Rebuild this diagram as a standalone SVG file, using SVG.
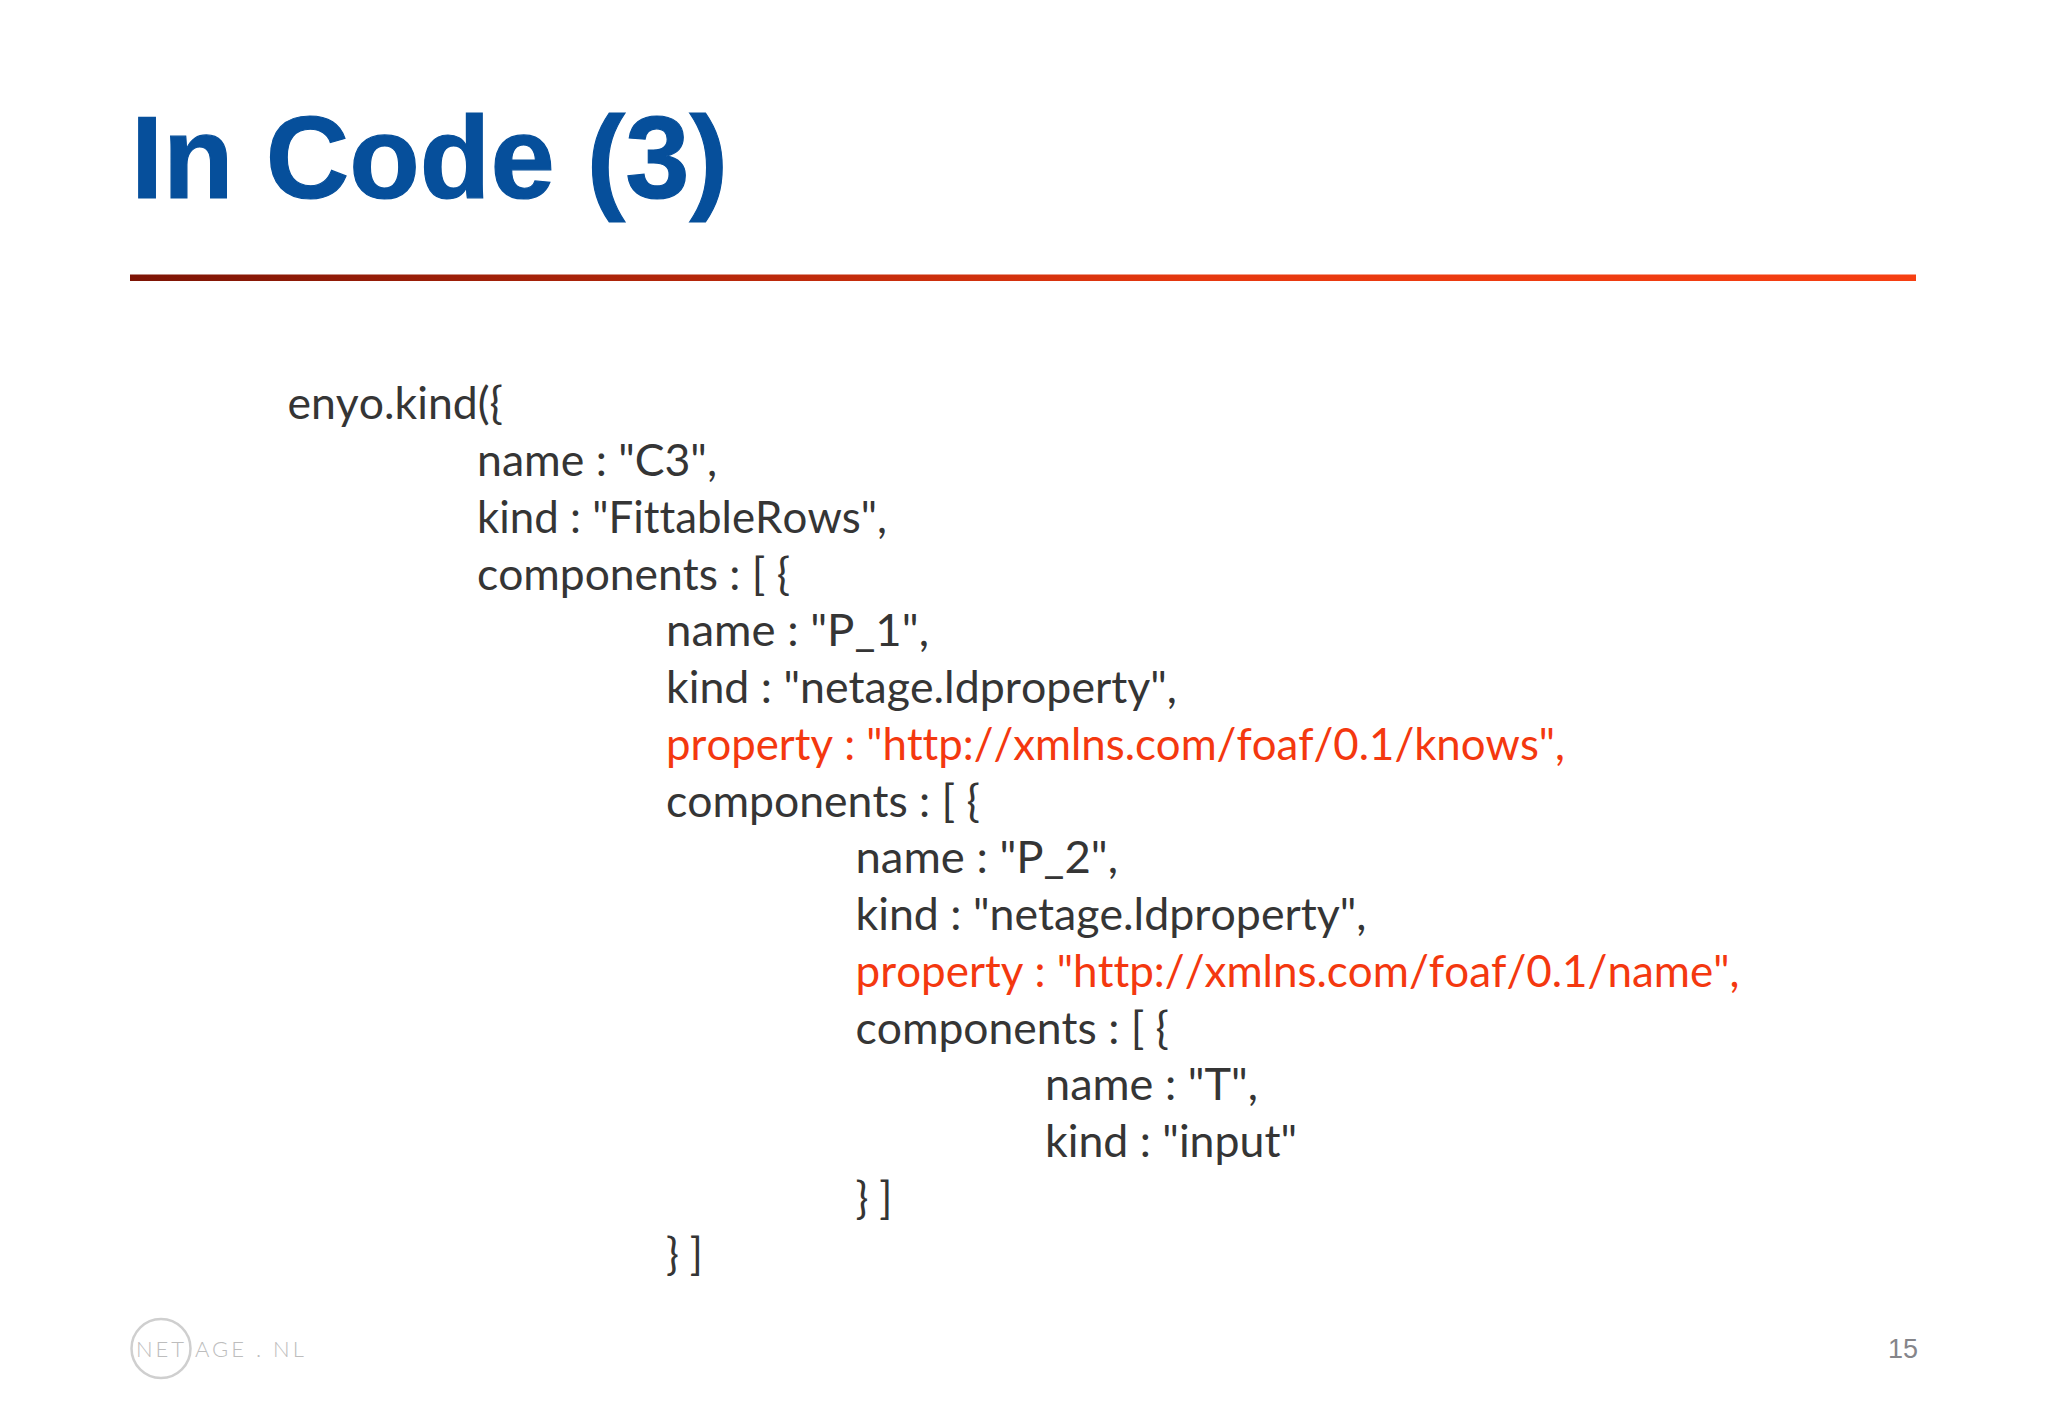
<svg xmlns="http://www.w3.org/2000/svg" width="2048" height="1418" viewBox="0 0 2048 1418">
<style>
.t{font-family:"Liberation Sans",Arial,sans-serif;font-weight:700;font-size:117px;fill:#064f9b;stroke:#064f9b;stroke-width:1.2px}
.c{font-family:"Lato","Carlito","Noto Sans",sans-serif;font-size:44px;fill:#353535;font-variant-ligatures:none;font-kerning:none}
.r{fill:#f4380f}
.l{font-family:"Lato","Noto Sans",sans-serif;font-size:22px;font-weight:300;fill:#bdbdbd;letter-spacing:3px}
.n{font-family:"Liberation Sans",Arial,sans-serif;font-size:27px;fill:#85858a}
</style>
<defs><linearGradient id="g" x1="0" x2="1" y1="0" y2="0"><stop offset="0" stop-color="#7d1405"/><stop offset="0.6" stop-color="#e6380f"/><stop offset="1" stop-color="#f63f12"/></linearGradient></defs>
<rect width="2048" height="1418" fill="#ffffff"/>
<g id="title"><text class="t" x="131" y="198" textLength="597" lengthAdjust="spacingAndGlyphs">In Code (3)</text></g>
<rect id="rule" x="130" y="274.5" width="1786" height="6.5" fill="url(#g)"/>
<g id="code">
<text class="c" x="287.5" y="419" textLength="215.5" lengthAdjust="spacingAndGlyphs">enyo.kind({</text>
<text class="c" x="477" y="476" textLength="240" lengthAdjust="spacingAndGlyphs">name : "C3",</text>
<text class="c" x="477" y="532.5" textLength="410" lengthAdjust="spacingAndGlyphs">kind : "FittableRows",</text>
<text class="c" x="477" y="589.5" textLength="313" lengthAdjust="spacingAndGlyphs">components : [ {</text>
<text class="c" x="666" y="646" textLength="263" lengthAdjust="spacingAndGlyphs">name : "P_1",</text>
<text class="c" x="666" y="703" textLength="511" lengthAdjust="spacingAndGlyphs">kind : "netage.ldproperty",</text>
<text class="c r" x="666" y="760" textLength="899" lengthAdjust="spacingAndGlyphs">property : "http://xmlns.com/foaf/0.1/knows",</text>
<text class="c" x="666" y="816.5" textLength="314" lengthAdjust="spacingAndGlyphs">components : [ {</text>
<text class="c" x="855.5" y="873" textLength="262.5" lengthAdjust="spacingAndGlyphs">name : "P_2",</text>
<text class="c" x="855.5" y="930" textLength="511" lengthAdjust="spacingAndGlyphs">kind : "netage.ldproperty",</text>
<text class="c r" x="855.5" y="987" textLength="884" lengthAdjust="spacingAndGlyphs">property : "http://xmlns.com/foaf/0.1/name",</text>
<text class="c" x="855.5" y="1043.5" textLength="313.5" lengthAdjust="spacingAndGlyphs">components : [ {</text>
<text class="c" x="1045" y="1100" textLength="213" lengthAdjust="spacingAndGlyphs">name : "T",</text>
<text class="c" x="1045" y="1157" textLength="252" lengthAdjust="spacingAndGlyphs">kind : "input"</text>
<text class="c" x="855.5" y="1213.5" textLength="37" lengthAdjust="spacingAndGlyphs">} ]</text>
<text class="c" x="666" y="1270" textLength="37" lengthAdjust="spacingAndGlyphs">} ]</text>
</g>
<g id="logo">
<circle cx="161" cy="1348.5" r="29.5" fill="none" stroke="#cfcfcf" stroke-width="2.5"/>
<text class="l" y="1357"><tspan x="136">NET</tspan><tspan x="195">AGE . NL</tspan></text>
</g>
<text id="page" class="n" x="1888" y="1358">15</text>
</svg>
